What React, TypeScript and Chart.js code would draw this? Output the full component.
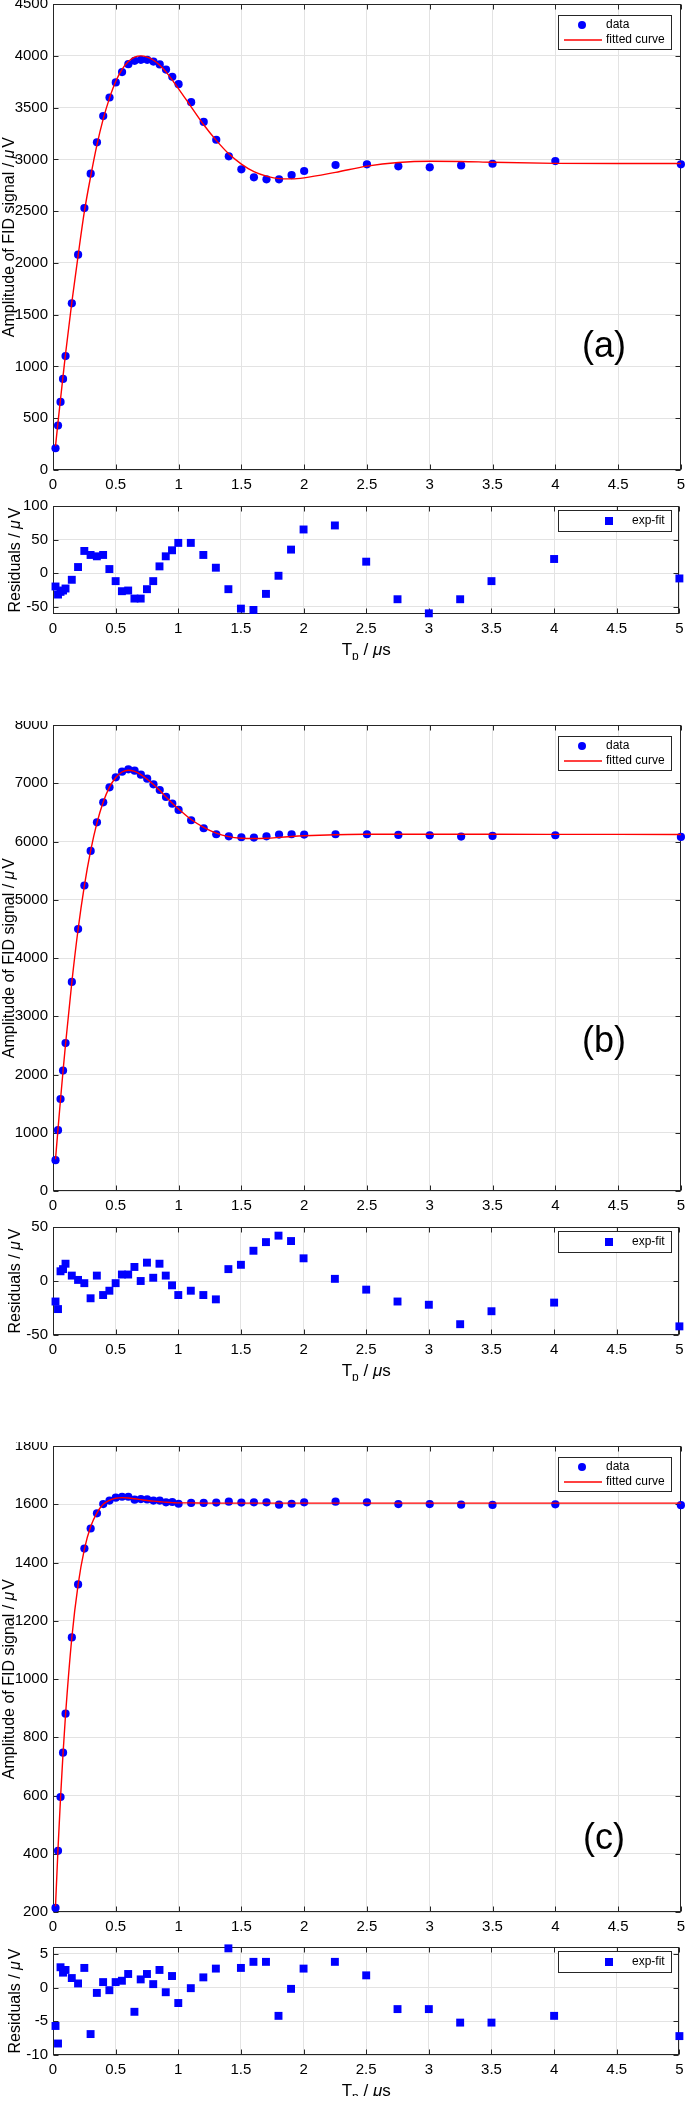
import React, { useEffect, useRef } from "react";
import { Chart, registerables } from "chart.js";

Chart.register(...registerables);

const FONT = '"Liberation Sans", Arial, Helvetica, sans-serif';
const AXIS_COLOR = "#262626";
const GRID_COLOR = "#e3e3e3";
const TEXT_COLOR = "#000000";
const BLUE = "#0000ff";
const RED = "#ff0000";

// ---- x values (pulse duration Tp, µs) ----
const tp = [0.02, 0.04, 0.06, 0.08, 0.1, 0.15, 0.2, 0.25, 0.3, 0.35, 0.4, 0.45, 0.5, 0.55, 0.6, 0.65, 0.7, 0.75, 0.8, 0.85, 0.9, 0.95, 1.0, 1.1, 1.2, 1.3, 1.4, 1.5, 1.6, 1.7, 1.8, 1.9, 2.0, 2.25, 2.5, 2.75, 3.0, 3.25, 3.5, 4.0, 5.0];
const fitTp = [0.02, 0.04, 0.06, 0.08, 0.1, 0.15, 0.2, 0.25, 0.3, 0.35, 0.4, 0.45, 0.5, 0.55, 0.6, 0.65, 0.7, 0.75, 0.8, 0.85, 0.9, 0.95, 1.0, 1.1, 1.2, 1.3, 1.4, 1.5, 1.6, 1.7, 1.8, 1.9, 2.0, 2.25, 2.5, 2.75, 3.0, 3.25, 3.5, 4.0, 4.5, 5.0];

// ---- panel (a) ----
const dataA = [210, 430, 658, 880, 1100, 1610, 2080, 2530, 2862, 3165, 3418, 3598, 3743, 3843, 3920, 3952, 3962, 3962, 3945, 3917, 3868, 3798, 3727, 3553, 3362, 3190, 3030, 2904, 2827, 2808, 2808, 2849, 2888, 2946, 2952, 2933, 2923, 2942, 2958, 2984, 2952];
const fitA = [230, 462, 686, 906, 1123, 1620, 2071, 2497, 2836, 3140, 3391, 3592, 3755, 3870, 3946, 3988, 4000, 3988, 3958, 3910, 3845, 3766, 3682, 3508, 3335, 3184, 3054, 2955, 2882, 2838, 2814, 2812, 2822, 2875, 2935, 2970, 2982, 2980, 2972, 2962, 2960, 2960];
const resA = [-20, -32, -28, -26, -23, -10, 9, 33, 27, 25, 27, 6, -12, -27, -26, -38, -38, -24, -12, 10, 25, 34, 45, 45, 27, 8, -24, -53, -55, -31, -4, 35, 65, 71, 17, -39, -60, -39, -12, 21, -8];

// ---- panel (b) ----
const dataB = [530, 1045, 1580, 2068, 2540, 3590, 4497, 5246, 5840, 6331, 6674, 6931, 7103, 7200, 7240, 7217, 7149, 7080, 6983, 6886, 6766, 6651, 6543, 6366, 6229, 6126, 6091, 6074, 6069, 6091, 6120, 6126, 6120, 6126, 6126, 6114, 6109, 6086, 6097, 6109, 6080];
const fitB = [545, 1065, 1575, 2060, 2525, 3585, 4495, 5245, 5845, 6320, 6680, 6935, 7100, 7195, 7225, 7205, 7150, 7070, 6980, 6875, 6765, 6660, 6560, 6380, 6245, 6145, 6085, 6058, 6052, 6058, 6072, 6088, 6100, 6118, 6125, 6127, 6127, 6126, 6125, 6124, 6123, 6122];
const resB = [-19, -26, 9, 11, 16, 5, 1, -2, -16, 5, -13, -9, -2, 6, 6, 13, 0, 17, 3, 16, 5, -4, -13, -9, -13, -17, 11, 15, 28, 36, 42, 37, 21, 2, -8, -19, -22, -40, -28, -20, -42];

// ---- panel (c) ----
const dataC = [214, 410, 595, 747, 881, 1143, 1325, 1448, 1517, 1569, 1601, 1613, 1623, 1626, 1626, 1616, 1618, 1617, 1613, 1613, 1607, 1608, 1602, 1605, 1605, 1606, 1609, 1606, 1607, 1607, 1599, 1602, 1607, 1609, 1607, 1601, 1601, 1599, 1598, 1600, 1597];
const fitC = [220, 418, 592, 745, 878, 1142, 1324, 1446, 1524, 1571, 1600, 1614, 1621, 1623, 1622, 1619, 1616, 1613, 1611, 1609, 1607, 1606, 1605, 1605, 1604, 1604, 1604, 1604, 1604, 1604, 1604, 1604, 1604, 1604, 1604, 1604, 1604, 1604, 1604, 1604, 1604, 1604];
const resC = [-5.7, -8.3, 3.0, 2.2, 2.6, 1.4, 0.6, 2.9, -6.9, -0.8, 0.8, -0.4, 0.8, 1.0, 2.0, -3.6, 1.2, 2.0, 0.5, 2.6, -0.7, 1.7, -2.3, -0.1, 1.5, 2.8, 5.8, 2.9, 3.8, 3.8, -4.2, -0.2, 2.8, 3.8, 1.8, -3.2, -3.2, -5.2, -5.2, -4.2, -7.2];

// ---- ticks ----
const xTicks = [0, 0.5, 1, 1.5, 2, 2.5, 3, 3.5, 4, 4.5, 5];
const xTickLabels = ["0", "0.5", "1", "1.5", "2", "2.5", "3", "3.5", "4", "4.5", "5"];
const yTicksA = [0, 500, 1000, 1500, 2000, 2500, 3000, 3500, 4000, 4500];
const yTicksB = [0, 1000, 2000, 3000, 4000, 5000, 6000, 7000, 8000];
const yTicksC = [200, 400, 600, 800, 1000, 1200, 1400, 1600, 1800];
const resTicksA = [-50, 0, 50, 100];
const resTicksB = [-50, 0, 50];
const resTicksC = [-10, -5, 0, 5];

const panelLabels = ["(a)", "(b)", "(c)"];
const legendMain = ["data", "fitted curve"];
const legendRes = ["exp-fit"];

type Spec = {
  kind: "main" | "res";
  canvasTop: number;
  canvasHeight: number;
  padTop: number;
  plotHeight: number;
  yMin: number;
  yMax: number;
  yTicks: number[];
  points: number[];
  fit?: number[];
  label?: string;
  labelY?: number;
};

const Y_AXIS_W = 53;
const PAD_RIGHT = 4;
const TICK_FONT = 15;
const YTITLE_FONT = 16;
const XTITLE_FONT = 17;
const LETTER_FONT = 36;
const LEGEND_FONT = 12;

function drawRich(
  ctx: CanvasRenderingContext2D,
  segs: { t: string; f: string; dy?: number; gap?: number }[],
  cx: number,
  cy: number
) {
  let total = 0;
  const widths = segs.map((s) => {
    ctx.font = s.f;
    const w = ctx.measureText(s.t).width + (s.gap || 0);
    total += w;
    return w;
  });
  let x = cx - total / 2;
  ctx.textAlign = "left";
  segs.forEach((s, i) => {
    ctx.font = s.f;
    ctx.fillText(s.t, x, cy + (s.dy || 0));
    x += widths[i];
  });
}

function line(ctx: CanvasRenderingContext2D, x1: number, y1: number, x2: number, y2: number) {
  ctx.beginPath();
  ctx.moveTo(x1, y1);
  ctx.lineTo(x2, y2);
  ctx.stroke();
}

function makePlugin(spec: Spec) {
  return {
    id: "matlabLook",
    beforeDatasetsDraw(chart: any) {
      const { ctx, chartArea: a } = chart;
      const xs = chart.scales.x;
      const ys = chart.scales.y;
      ctx.save();
      ctx.strokeStyle = AXIS_COLOR;
      ctx.lineWidth = 1;
      const L = Math.round(a.left) + 0.5;
      const R = Math.round(a.right) - 0.5;
      const T = Math.round(a.top) + 0.5;
      const B = Math.round(a.bottom) - 0.5;
      ctx.strokeRect(L, T, R - L, B - T);
      const tl = 5;
      xs.ticks.forEach((t: any) => {
        const px = Math.round(xs.getPixelForValue(t.value)) + 0.5;
        line(ctx, px, T, px, T + tl);
        line(ctx, px, B, px, B - tl);
      });
      ys.ticks.forEach((t: any) => {
        const py = Math.round(ys.getPixelForValue(t.value)) + 0.5;
        line(ctx, L, py, L + tl, py);
        line(ctx, R, py, R - tl, py);
      });
      ctx.restore();
    },
    afterDraw(chart: any) {
      const { ctx, chartArea: a } = chart;
      ctx.save();
      ctx.fillStyle = TEXT_COLOR;
      ctx.textBaseline = "middle";
      const norm = (s: number) => `${s}px ${FONT}`;
      const ital = (s: number) => `italic ${s}px ${FONT}`;
      // y axis title (rotated)
      const cy = (a.top + a.bottom) / 2;
      ctx.save();
      if (spec.kind === "main") {
        ctx.translate(10, cy);
        ctx.rotate(-Math.PI / 2);
        drawRich(ctx, [
          { t: "Amplitude of FID signal / ", f: norm(YTITLE_FONT) },
          { t: "\u03bc", f: ital(YTITLE_FONT), gap: 2 },
          { t: "V", f: norm(YTITLE_FONT) },
        ], 0, 0);
      } else {
        ctx.translate(16, cy);
        ctx.rotate(-Math.PI / 2);
        drawRich(ctx, [
          { t: "Residuals / ", f: norm(YTITLE_FONT) },
          { t: "\u03bc", f: ital(YTITLE_FONT), gap: 2 },
          { t: "V", f: norm(YTITLE_FONT) },
        ], 0, 0);
      }
      ctx.restore();

      // x axis title for residual panels
      if (spec.kind === "res") {
        ctx.textBaseline = "alphabetic";
        drawRich(ctx, [
          { t: "T", f: norm(XTITLE_FONT) },
          { t: "p", f: norm(12), dy: 5 },
          { t: " / ", f: norm(XTITLE_FONT) },
          { t: "\u03bc", f: ital(XTITLE_FONT) },
          { t: "s", f: norm(XTITLE_FONT) },
        ], (a.left + a.right) / 2, a.bottom + 41);
      }

      // panel letter
      if (spec.label) {
        ctx.textBaseline = "middle";
        ctx.textAlign = "center";
        ctx.font = norm(LETTER_FONT);
        ctx.fillText(spec.label, 604, a.top + (spec.labelY || 0));
      }

      // legend
      const lx = 558;
      const lw = 113;
      if (spec.kind === "main") {
        const top = Math.round(a.top + 10.5);
        const h = 34;
        ctx.fillStyle = "#ffffff";
        ctx.fillRect(lx, top, lw, h);
        ctx.strokeStyle = AXIS_COLOR;
        ctx.lineWidth = 1;
        ctx.strokeRect(lx + 0.5, top + 0.5, lw, h);
        ctx.fillStyle = BLUE;
        ctx.beginPath();
        ctx.arc(582, top + 10, 4, 0, Math.PI * 2);
        ctx.fill();
        ctx.strokeStyle = RED;
        ctx.lineWidth = 1.4;
        line(ctx, 564, top + 25, 602, top + 25);
        ctx.fillStyle = TEXT_COLOR;
        ctx.textAlign = "left";
        ctx.textBaseline = "middle";
        ctx.font = norm(LEGEND_FONT);
        ctx.fillText(legendMain[0], 606, top + 10);
        ctx.fillText(legendMain[1], 606, top + 25);
      } else {
        const top = Math.round(a.top + 4);
        const h = 21;
        ctx.fillStyle = "#ffffff";
        ctx.fillRect(lx, top, lw, h);
        ctx.strokeStyle = AXIS_COLOR;
        ctx.lineWidth = 1;
        ctx.strokeRect(lx + 0.5, top + 0.5, lw, h);
        ctx.fillStyle = BLUE;
        ctx.fillRect(609 - 4, top + 11 - 4, 8, 8);
        ctx.fillStyle = TEXT_COLOR;
        ctx.textAlign = "left";
        ctx.textBaseline = "middle";
        ctx.font = norm(LEGEND_FONT);
        ctx.fillText(legendRes[0], 632, top + 11);
      }
      ctx.restore();
    },
  };
}

function makeConfig(spec: Spec): any {
  const datasets: any[] = [];
  if (spec.fit) {
    datasets.push({
      type: "line",
      label: legendMain[1],
      data: fitTp.map((x, i) => ({ x, y: spec.fit![i] })),
      borderColor: RED,
      backgroundColor: RED,
      borderWidth: 1.4,
      pointRadius: 0,
      cubicInterpolationMode: "monotone",
      fill: false,
      clip: false,
    });
  }
  datasets.push({
    type: "scatter",
    label: spec.kind === "main" ? legendMain[0] : legendRes[0],
    data: tp.map((x, i) => ({ x, y: spec.points[i] })),
    backgroundColor: BLUE,
    borderColor: BLUE,
    borderWidth: 0,
    pointStyle: spec.kind === "main" ? "circle" : "rect",
    pointRadius: spec.kind === "main" ? 4.1 : 5.6,
    clip: false,
  });
  const xAxisH = spec.canvasHeight - spec.padTop - spec.plotHeight;
  return {
    type: "scatter",
    data: { datasets },
    options: {
      animation: false,
      responsive: false,
      maintainAspectRatio: false,
      devicePixelRatio: 1,
      events: [],
      layout: { padding: { top: spec.padTop, right: PAD_RIGHT, left: 0, bottom: 0 } },
      plugins: {
        legend: { display: false },
        tooltip: { enabled: false },
        title: { display: false },
      },
      scales: {
        x: {
          type: "linear",
          position: "bottom",
          min: 0,
          max: 5,
          afterBuildTicks: (s: any) => {
            s.ticks = xTicks.map((v) => ({ value: v }));
          },
          afterFit: (s: any) => {
            s.height = xAxisH;
            s.paddingLeft = 0;
            s.paddingRight = 0;
          },
          grid: { color: GRID_COLOR, lineWidth: 1, drawTicks: false },
          border: { display: false },
          ticks: {
            padding: 6,
            color: TEXT_COLOR,
            font: { family: FONT, size: TICK_FONT },
            maxRotation: 0,
            minRotation: 0,
            autoSkip: false,
            callback: (_v: any, i: number) => xTickLabels[i],
          },
        },
        y: {
          type: "linear",
          position: "left",
          min: spec.yMin,
          max: spec.yMax,
          afterBuildTicks: (s: any) => {
            s.ticks = spec.yTicks.map((v) => ({ value: v }));
          },
          afterFit: (s: any) => {
            s.width = Y_AXIS_W;
            s.paddingTop = 0;
            s.paddingBottom = 0;
          },
          grid: { color: GRID_COLOR, lineWidth: 1, drawTicks: false },
          border: { display: false },
          ticks: {
            padding: 5,
            color: TEXT_COLOR,
            font: { family: FONT, size: TICK_FONT },
            autoSkip: false,
            callback: (v: any) => String(v),
          },
        },
      },
    },
    plugins: [makePlugin(spec)],
  };
}

const MAIN_H = 500;
const RES_H = 160;
const mainTops = [4, 725, 1446];
const resTops = [506, 1227, 1947];

const specs: Spec[] = [
  { kind: "main", canvasTop: mainTops[0] - 4, canvasHeight: MAIN_H, padTop: 4, plotHeight: 466, yMin: 0, yMax: 4500, yTicks: yTicksA, points: dataA, fit: fitA, label: panelLabels[0], labelY: 343 },
  { kind: "res", canvasTop: resTops[0] - 6, canvasHeight: RES_H, padTop: 6, plotHeight: 108, yMin: -61, yMax: 100, yTicks: resTicksA, points: resA },
  { kind: "main", canvasTop: mainTops[1] - 4, canvasHeight: MAIN_H, padTop: 4, plotHeight: 466, yMin: 0, yMax: 8000, yTicks: yTicksB, points: dataB, fit: fitB, label: panelLabels[1], labelY: 317 },
  { kind: "res", canvasTop: resTops[1] - 6, canvasHeight: RES_H, padTop: 6, plotHeight: 108, yMin: -50, yMax: 50, yTicks: resTicksB, points: resB },
  { kind: "main", canvasTop: mainTops[2] - 4, canvasHeight: MAIN_H, padTop: 4, plotHeight: 466, yMin: 200, yMax: 1800, yTicks: yTicksC, points: dataC, fit: fitC, label: panelLabels[2], labelY: 393 },
  { kind: "res", canvasTop: resTops[2] - 6, canvasHeight: RES_H - 5, padTop: 6, plotHeight: 108, yMin: -10, yMax: 6, yTicks: resTicksC, points: resC },
];

function ChartCanvas({ spec }: { spec: Spec }) {
  const ref = useRef<HTMLCanvasElement | null>(null);
  useEffect(() => {
    if (!ref.current) return;
    const chart = new Chart(ref.current, makeConfig(spec));
    return () => chart.destroy();
  }, [spec]);
  return (
    <canvas
      ref={ref}
      width={685}
      height={spec.canvasHeight}
      style={{ position: "absolute", left: 0, top: spec.canvasTop, width: 685, height: spec.canvasHeight, display: "block" }}
    />
  );
}

export default function App() {
  return (
    <div style={{ position: "absolute", left: 0, top: 0, width: 685, height: 2102, overflow: "hidden", background: "#ffffff" }}>
      {specs.map((s, i) => (
        <ChartCanvas key={i} spec={s} />
      ))}
    </div>
  );
}
